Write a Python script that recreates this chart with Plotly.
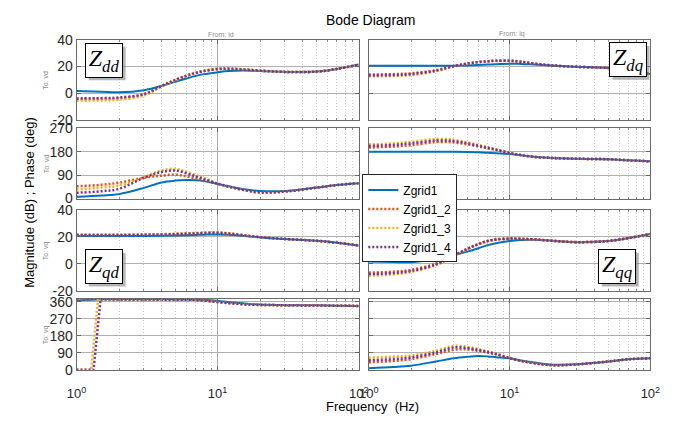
import plotly.graph_objects as go

# ---------------- data ----------------
SERIES = ["Zgrid1", "Zgrid1_2", "Zgrid1_3", "Zgrid1_4"]
COLORS = ["#0072BD", "#D95319", "#EDB120", "#7E2F8E"]

FREQ = [1, 1.5, 2, 3, 4, 5, 6, 7, 8, 10, 12, 15, 20, 30, 50, 70, 100]

# Z_dd magnitude (dB)
ZDD_MAG_1 = [1.5, 1.0, 0.6, 2.2, 5.3, 8.5, 11.0, 13.0, 14.3, 15.7, 16.6, 17.0, 16.7, 16.0, 16.2, 18.2, 21.5]
ZDD_MAG_2 = [-4.5, -4.3, -3.8, -1.0, 5.2, 9.8, 13.0, 15.2, 16.7, 18.2, 18.4, 17.9, 17.0, 16.0, 16.2, 18.2, 21.5]
ZDD_MAG_3 = [-5.8, -5.5, -5.0, -1.8, 4.8, 9.6, 13.0, 15.3, 16.9, 18.5, 18.7, 18.1, 17.0, 16.0, 16.2, 18.2, 21.5]
ZDD_MAG_4 = [-4.0, -3.8, -3.3, -0.8, 5.4, 9.9, 13.1, 15.2, 16.6, 18.1, 18.3, 17.8, 16.9, 16.0, 16.2, 18.2, 21.5]

# Z_dq magnitude (dB)
ZDQ_MAG_1 = [20.6, 20.6, 20.6, 20.6, 20.7, 20.9, 21.2, 21.5, 21.8, 22.2, 22.0, 21.5, 20.8, 19.8, 19.0, 17.2, 14.3]
ZDQ_MAG_2 = [14.0, 14.3, 14.9, 17.3, 20.5, 22.3, 23.4, 24.0, 24.3, 24.3, 23.6, 22.2, 20.9, 19.8, 19.0, 17.2, 14.3]
ZDQ_MAG_3 = [12.6, 12.9, 13.6, 16.5, 20.0, 22.1, 23.4, 24.1, 24.5, 24.5, 23.8, 22.3, 20.9, 19.8, 19.0, 17.2, 14.3]
ZDQ_MAG_4 = [13.3, 13.6, 14.3, 16.9, 20.3, 22.2, 23.4, 24.0, 24.4, 24.4, 23.7, 22.2, 20.9, 19.8, 19.0, 17.2, 14.3]

# Z_dd phase (deg)
ZDD_PH_1 = [7, 12, 17, 41, 62, 69, 71, 70, 67, 56, 47, 37, 29, 29, 42, 52, 59]
ZDD_PH_2 = [47, 53, 61, 80, 88, 92, 85, 77, 70, 57, 46, 34, 24, 27, 42, 52, 59]
ZDD_PH_3 = [35, 42, 50, 82, 108, 114, 103, 90, 80, 58, 46, 34, 23, 27, 42, 52, 59]
ZDD_PH_4 = [22, 28, 37, 80, 102, 108, 97, 85, 75, 57, 46, 34, 24, 27, 42, 52, 59]

# Z_dq phase (deg)
ZDQ_PH_1 = [180, 180, 180, 180, 179.5, 179, 178, 176, 174, 171, 166, 161, 156, 153, 151, 147, 143]
ZDQ_PH_2 = [196, 200, 205, 217, 216, 208, 200, 193, 187, 175, 167, 160, 156, 153, 151, 147, 143]
ZDQ_PH_3 = [208, 212, 218, 229, 226, 216, 206, 197, 190, 176, 167, 160, 156, 153, 151, 147, 143]
ZDQ_PH_4 = [202, 206, 212, 223, 221, 212, 203, 195, 188, 175, 167, 160, 156, 153, 151, 147, 143]

# Z_qd magnitude (dB)
ZQD_MAG_1 = [20.5, 20.5, 20.5, 20.6, 20.7, 20.9, 21.1, 21.3, 21.5, 21.7, 21.5, 20.7, 19.5, 18.3, 17.0, 15.6, 13.5]
ZQD_MAG_2 = [21.3, 21.3, 21.3, 21.5, 21.7, 22.0, 22.3, 22.6, 22.8, 23.0, 22.4, 21.2, 19.7, 18.3, 17.0, 15.6, 13.5]
ZQD_MAG_3 = [21.5, 21.5, 21.5, 21.7, 21.9, 22.2, 22.5, 22.8, 23.0, 23.1, 22.5, 21.2, 19.7, 18.3, 17.0, 15.6, 13.5]
ZQD_MAG_4 = [21.2, 21.2, 21.2, 21.4, 21.6, 21.9, 22.2, 22.5, 22.7, 22.9, 22.3, 21.1, 19.7, 18.3, 17.0, 15.6, 13.5]

# Z_qq magnitude (dB)
ZQQ_MAG_1 = [1.7, 1.4, 1.2, 3.5, 6.4, 9.0, 11.5, 13.8, 15.2, 16.8, 17.5, 17.8, 17.0, 16.0, 16.8, 19.0, 22.0]
ZQQ_MAG_2 = [-6.5, -5.8, -4.4, 0.2, 6.2, 11.0, 14.5, 16.8, 17.9, 18.5, 18.4, 18.0, 17.0, 16.0, 16.8, 19.0, 22.0]
ZQQ_MAG_3 = [-8.8, -7.8, -6.0, -1.0, 5.5, 10.8, 14.5, 17.0, 18.1, 18.7, 18.5, 18.0, 17.0, 16.0, 16.8, 19.0, 22.0]
ZQQ_MAG_4 = [-7.6, -6.8, -5.3, -0.5, 5.8, 11.0, 14.5, 16.9, 18.0, 18.6, 18.4, 18.0, 17.0, 16.0, 16.8, 19.0, 22.0]

# Z_qd phase (deg) -- series 3 and 4 wrap from 0 to 360 near 1.3-1.5 Hz
ZQD_PH_1 = [366, 373, 373, 373, 373, 373, 372, 371, 370, 364, 358, 352, 345, 342, 341, 339, 338]
ZQD_PH_2 = [373, 373, 373, 373, 373, 373, 372, 370, 366, 358, 352, 347, 343, 342, 341, 339, 338]
FREQ_QD_PH_3 = [1, 1.27, 1.42, 2, 3, 4, 5, 6, 7, 8, 10, 12, 15, 20, 30, 50, 70, 100]
ZQD_PH_3 = [0, 0, 373, 373, 373, 373, 373, 372, 370, 366, 358, 352, 347, 343, 342, 341, 339, 338]
FREQ_QD_PH_4 = [1, 1.32, 1.48, 2, 3, 4, 5, 6, 7, 8, 10, 12, 15, 20, 30, 50, 70, 100]
ZQD_PH_4 = [0, 0, 373, 373, 373, 373, 373, 372, 370, 366, 358, 352, 347, 343, 342, 341, 339, 338]

# Z_qq phase (deg)
ZQQ_PH_1 = [9, 15, 22, 44, 61, 69, 73, 71, 67, 61, 50, 39, 27, 30, 44, 56, 61]
ZQQ_PH_2 = [40, 47, 57, 84, 106, 108, 100, 91, 82, 62, 48, 35, 25, 29, 44, 56, 61]
ZQQ_PH_3 = [64, 70, 76, 101, 126, 122, 110, 98, 87, 63, 48, 35, 25, 29, 44, 56, 61]
ZQQ_PH_4 = [50, 57, 66, 92, 118, 115, 105, 94, 84, 62, 48, 35, 25, 29, 44, 56, 61]

MAG_TICKS = [-20, 0, 20, 40]
PH_TICKS_2 = [0, 90, 180, 270]
PH_TICKS_4 = [0, 90, 180, 270, 360]
X_TICKS = [1, 10, 100]
X_TICK_TEXT = ["10<sup>0</sup>", "10<sup>1</sup>", "10<sup>2</sup>"]
X_MINOR = [2, 3, 4, 5, 6, 7, 8, 9, 20, 30, 40, 50, 60, 70, 80, 90]

# ---------------- layout helpers ----------------
W, H = 698, 425
def px(x):
    return x / W
def py(y):
    return 1 - y / H

X_DOM = [(68.5, 359.0), (369.3, 659.3)]
Y_DOM = [(33.3, 116.0), (125.0, 198.0), (209.5, 294.0), (302.3, 376.0)]
Y_RANGE = [(-20, 40), (0, 270), (-20, 40), (0, 375)]
Y_TICKS = [MAG_TICKS, PH_TICKS_2, MAG_TICKS, PH_TICKS_4]

# panels: (row, col, [(x, y) per series])
PANELS = [
    (0, 0, [(FREQ, ZDD_MAG_1), (FREQ, ZDD_MAG_2), (FREQ, ZDD_MAG_3), (FREQ, ZDD_MAG_4)]),
    (0, 1, [(FREQ, ZDQ_MAG_1), (FREQ, ZDQ_MAG_2), (FREQ, ZDQ_MAG_3), (FREQ, ZDQ_MAG_4)]),
    (1, 0, [(FREQ, ZDD_PH_1), (FREQ, ZDD_PH_2), (FREQ, ZDD_PH_3), (FREQ, ZDD_PH_4)]),
    (1, 1, [(FREQ, ZDQ_PH_1), (FREQ, ZDQ_PH_2), (FREQ, ZDQ_PH_3), (FREQ, ZDQ_PH_4)]),
    (2, 0, [(FREQ, ZQD_MAG_1), (FREQ, ZQD_MAG_2), (FREQ, ZQD_MAG_3), (FREQ, ZQD_MAG_4)]),
    (2, 1, [(FREQ, ZQQ_MAG_1), (FREQ, ZQQ_MAG_2), (FREQ, ZQQ_MAG_3), (FREQ, ZQQ_MAG_4)]),
    (3, 0, [(FREQ, ZQD_PH_1), (FREQ, ZQD_PH_2), (FREQ_QD_PH_3, ZQD_PH_3), (FREQ_QD_PH_4, ZQD_PH_4)]),
    (3, 1, [(FREQ, ZQQ_PH_1), (FREQ, ZQQ_PH_2), (FREQ, ZQQ_PH_3), (FREQ, ZQQ_PH_4)]),
]

FONT = "Liberation Sans, Arial, sans-serif"
fig = go.Figure()

for r, c, curves in PANELS:
    n = r * 2 + c + 1
    xr = "x" if n == 1 else f"x{n}"
    yr = "y" if n == 1 else f"y{n}"
    for k, (xs, ys) in enumerate(curves):
        shape = "linear" if (r == 3 and c == 0 and k >= 2) else "spline"
        line = dict(color=COLORS[k], width=2.0 if k == 0 else 2.5,
                    dash="solid" if k == 0 else "2px,2px", shape=shape)
        fig.add_trace(go.Scatter(
            x=xs, y=ys, mode="lines", name=SERIES[k], line=line,
            xaxis=xr, yaxis=yr,
            showlegend=(n == 1), hoverinfo="skip",
        ))

    xkey = "xaxis" if n == 1 else f"xaxis{n}"
    ykey = "yaxis" if n == 1 else f"yaxis{n}"
    bottom = (r == 3)
    fig.update_layout(**{
        xkey: dict(
            domain=[px(X_DOM[c][0]), px(X_DOM[c][1])], anchor=yr, type="log",
            range=[0, 2], tickmode="array", tickvals=X_TICKS, ticktext=X_TICK_TEXT,
            showticklabels=bottom, ticks="inside", ticklen=4, tickcolor="#666",
            ticklabelstandoff=12,
            showgrid=True, gridcolor="#a8a8a8", gridwidth=1,
            showline=True, linecolor="#6a6a6a", linewidth=1, mirror="ticks",
            zeroline=False, tickfont=dict(family=FONT, size=13, color="#262626"),
            minor=dict(tickvals=X_MINOR, showgrid=True, gridcolor="#cdcdcd",
                       griddash="1px,2px", gridwidth=1, ticks="inside", ticklen=2,
                       tickcolor="#888"),
        ),
        ykey: dict(
            domain=[py(Y_DOM[r][1]), py(Y_DOM[r][0])], anchor=xr,
            range=list(Y_RANGE[r]), tickmode="array", tickvals=Y_TICKS[r],
            ticktext=[str(v) for v in Y_TICKS[r]],
            showticklabels=(c == 0), ticks="inside", ticklen=4, tickcolor="#666",
            showgrid=True, gridcolor="#b0b0b0", gridwidth=1,
            showline=True, linecolor="#6a6a6a", linewidth=1, mirror="ticks",
            zeroline=False, tickfont=dict(family=FONT, size=14, color="#262626"),
        ),
    })

annotations = []
def text_ann(x, y, text, size, color="#000", angle=0):
    annotations.append(dict(x=px(x), y=py(y), xref="paper", yref="paper", text=text,
                            showarrow=False, textangle=angle, xanchor="center",
                            yanchor="middle", font=dict(family=FONT, size=size, color=color)))

text_ann(372, 12, "Bode Diagram", 14)
text_ann(217, 27.5, "From: id", 7, "#8c8c8c")
text_ann(517, 27.5, "From: iq", 7, "#8c8c8c")
for r, lab in enumerate(["To: vd", "To: vd", "To: vq", "To: vq"]):
    text_ann(37, (Y_DOM[r][0] + Y_DOM[r][1]) / 2, lab, 7, "#8c8c8c", -90)
text_ann(20, 202, "Magnitude (dB) ; Phase (deg)", 13, "#000", -90)
text_ann(373, 414, "Frequency\u00a0 (Hz)", 13)

shapes = []
Z_BOXES = [("dd", 97, 54.5), ("dq", 636.3, 54.0), ("qd", 97, 269.0), ("qq", 625.3, 269.0)]
BW, BH = 38, 35
for sub, cx, cy in Z_BOXES:
    shapes.append(dict(type="rect", xref="paper", yref="paper", layer="above",
                       x0=px(cx - BW / 2 + 3), x1=px(cx + BW / 2 + 3),
                       y0=py(cy + BH / 2 + 3), y1=py(cy - BH / 2 + 3),
                       fillcolor="rgba(120,120,120,0.55)", line=dict(width=0)))
    annotations.append(dict(x=px(cx), y=py(cy), xref="paper", yref="paper",
                            text=f"<i>Z<sub>{sub}</sub></i>", showarrow=False,
                            xanchor="center", yanchor="middle", width=BW - 2, height=BH - 2,
                            bgcolor="white", bordercolor="#000", borderwidth=1, borderpad=0,
                            font=dict(family="Liberation Serif, Times New Roman, serif",
                                      size=24, color="#000")))

fig.update_layout(
    width=W, height=H, margin=dict(l=0, r=0, t=0, b=0),
    paper_bgcolor="white", plot_bgcolor="white",
    annotations=annotations, shapes=shapes,
    legend=dict(x=px(362.7), y=py(173), xanchor="left", yanchor="top",
                bgcolor="white", bordercolor="#262626", borderwidth=1,
                font=dict(family=FONT, size=12, color="#000"),
                itemwidth=30, tracegroupgap=0),
    showlegend=True,
)

fig.write_html("out.html")
